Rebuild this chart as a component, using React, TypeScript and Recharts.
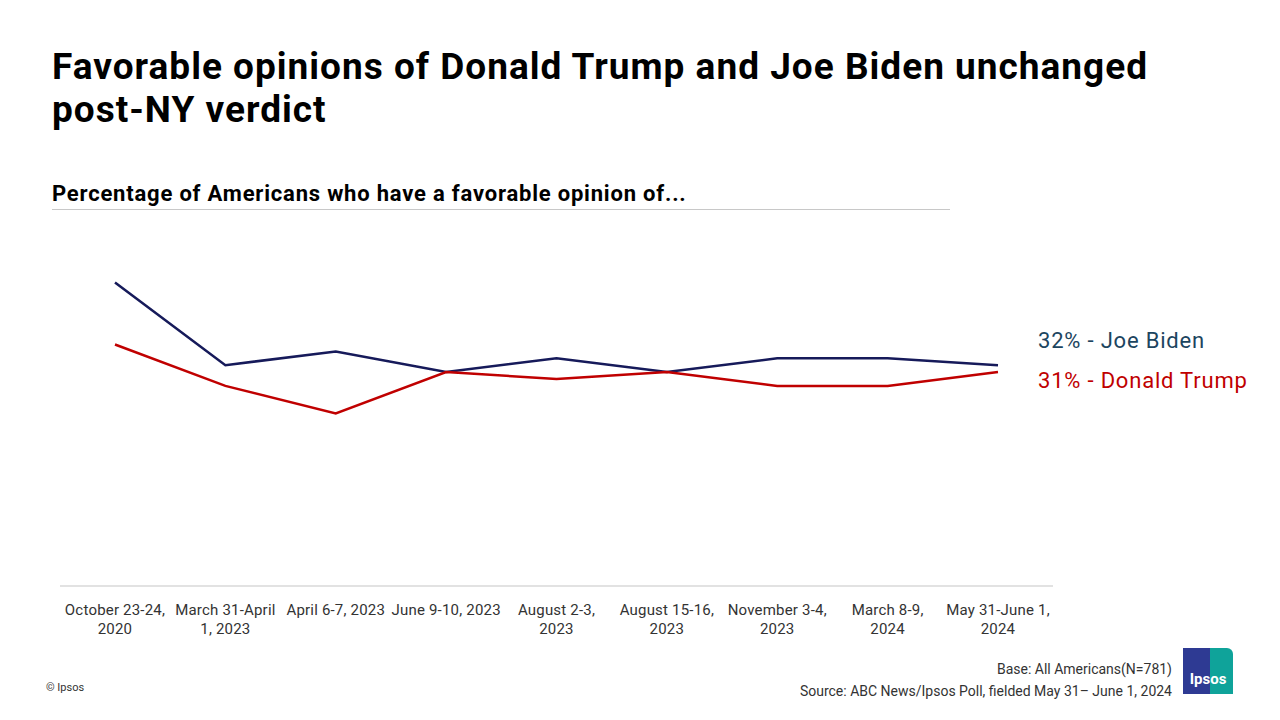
import React from 'react'
import { LineChart, Line, XAxis, YAxis } from 'recharts'

const waves = [
  'October 23-24,\n2020',
  'March 31-April\n1, 2023',
  'April 6-7, 2023',
  'June 9-10, 2023',
  'August 2-3,\n2023',
  'August 15-16,\n2023',
  'November 3-4,\n2023',
  'March 8-9,\n2024',
  'May 31-June 1,\n2024',
]
const biden = [44, 32, 34, 31, 33, 31, 33, 33, 32]
const trump = [35, 29, 25, 31, 30, 31, 29, 29, 31]

const data = waves.map((w, i) => ({ wave: w, biden: biden[i], trump: trump[i] }))

const font = 'Roboto, "Noto Sans", sans-serif'

const WaveTick = ({ x, y, payload }: any) => {
  const lines = String(payload.value).split('\n')
  return (
    <text x={x} y={y + 21} textAnchor="middle" fill="#333" fontSize={15} letterSpacing={0.2} fontFamily={font}>
      {lines.map((l, i) => (
        <tspan key={i} x={x} dy={i === 0 ? 0 : 19}>{l}</tspan>
      ))}
    </text>
  )
}

export default function App() {
  return (
    <div style={{ position: 'absolute', left: 0, top: 0, width: 1280, height: 720, background: '#fff', fontFamily: font, overflow: 'hidden' }}>
      <div style={{ position: 'absolute', left: 52, top: 45, fontSize: 37, fontWeight: 700, lineHeight: '43px', color: '#000', letterSpacing: 1.0 }}>
        Favorable opinions of Donald Trump and Joe Biden unchanged<br />post-NY verdict
      </div>
      <div style={{ position: 'absolute', left: 52, top: 181, fontSize: 22, fontWeight: 700, color: '#000', letterSpacing: 0.8 }}>
        Percentage of Americans who have a favorable opinion of...
      </div>
      <div style={{ position: 'absolute', left: 52, top: 209, width: 898, height: 1, background: '#c8c8c8' }} />

      <div style={{ position: 'absolute', left: 0, top: 0 }}>
        <LineChart width={1280} height={720} data={data} margin={{ top: 241, right: 227, bottom: 74, left: 60 }}>
          <YAxis hide domain={[0, 50]} />
          <XAxis dataKey="wave" height={60} interval={0} padding={{ left: 55, right: 55 }} tickLine={false} axisLine={{ stroke: '#d9d9d9', strokeWidth: 1.5 }} tick={<WaveTick />} />
          <Line dataKey="biden" stroke="#161a5a" strokeWidth={2.5} dot={false} isAnimationActive={false} />
          <Line dataKey="trump" stroke="#c00000" strokeWidth={2.5} dot={false} isAnimationActive={false} />
        </LineChart>
      </div>

      <div style={{ position: 'absolute', left: 1038, top: 328, fontSize: 22, color: '#1c4560', letterSpacing: 0.8 }}>32% - Joe Biden</div>
      <div style={{ position: 'absolute', left: 1038, top: 368, fontSize: 22, color: '#c00000', letterSpacing: 0.8 }}>31% - Donald Trump</div>

      <div style={{ position: 'absolute', left: 46, top: 681, fontSize: 11, color: '#333' }}>© Ipsos</div>
      <div style={{ position: 'absolute', right: 108, top: 658, fontSize: 14, color: '#333', textAlign: 'right', lineHeight: '22px' }}>
        Base: All Americans(N=781)<br />Source: ABC News/Ipsos Poll, fielded May 31– June 1, 2024
      </div>
      <div style={{ position: 'absolute', left: 1183, top: 648, width: 50, height: 46, background: 'linear-gradient(90deg, #2e3a93 0 55%, #0fa39a 55% 100%)', borderRadius: '0 6px 0 0' }}>
        <div style={{ position: 'absolute', left: 0, width: 50, top: 22, textAlign: 'center', color: '#fff', fontWeight: 700, fontSize: 15 }}>Ipsos</div>
      </div>
    </div>
  )
}
